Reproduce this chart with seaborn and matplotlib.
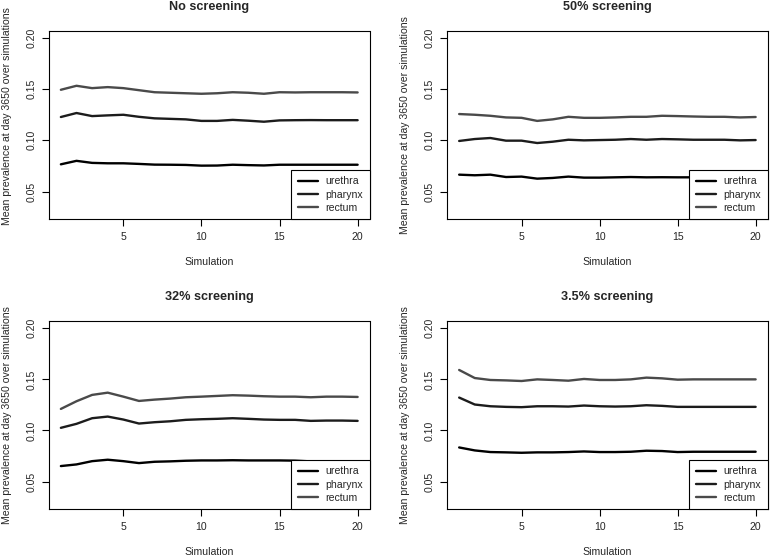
import numpy as np
import pandas as pd
import seaborn as sns
from matplotlib import pyplot as plt

# simulation index 1..20
simulation = list(range(1, 21))
sites = ['urethra', 'pharynx', 'rectum']
titles = ['No screening', '50% screening', '32% screening', '3.5% screening']

# No screening
none_urethra = [0.0766, 0.0800, 0.0780, 0.0776, 0.0776, 0.0770, 0.0763, 0.0762, 0.0760, 0.0753,
                0.0754, 0.0762, 0.0758, 0.0755, 0.0762, 0.0762, 0.0762, 0.0762, 0.0762, 0.0762]
none_pharynx = [0.1228, 0.1267, 0.1237, 0.1244, 0.1250, 0.1230, 0.1215, 0.1210, 0.1205, 0.1190,
                0.1190, 0.1200, 0.1192, 0.1182, 0.1195, 0.1197, 0.1198, 0.1197, 0.1197, 0.1197]
none_rectum = [0.1494, 0.1533, 0.1510, 0.1520, 0.1510, 0.1490, 0.1470, 0.1465, 0.1460, 0.1455,
               0.1460, 0.1470, 0.1465, 0.1455, 0.1470, 0.1468, 0.1470, 0.1470, 0.1470, 0.1468]

# 50% screening
s50_urethra = [0.0665, 0.0659, 0.0665, 0.0642, 0.0646, 0.0626, 0.0633, 0.0646, 0.0636, 0.0636,
               0.0639, 0.0642, 0.0639, 0.0640, 0.0639, 0.0639, 0.0639, 0.0639, 0.0638, 0.0639]
s50_pharynx = [0.0994, 0.1013, 0.1023, 0.0997, 0.0997, 0.0974, 0.0987, 0.1006, 0.1000, 0.1003,
               0.1006, 0.1013, 0.1006, 0.1013, 0.1010, 0.1006, 0.1006, 0.1006, 0.1000, 0.1003]
s50_rectum = [0.1257, 0.1250, 0.1240, 0.1224, 0.1220, 0.1190, 0.1205, 0.1230, 0.1220, 0.1220,
              0.1224, 0.1230, 0.1230, 0.1240, 0.1237, 0.1233, 0.1230, 0.1230, 0.1224, 0.1228]

# 32% screening
s32_urethra = [0.0652, 0.0668, 0.0700, 0.0714, 0.0700, 0.0681, 0.0694, 0.0698, 0.0704, 0.0707,
               0.0707, 0.0709, 0.0707, 0.0707, 0.0707, 0.0705, 0.0698, 0.0698, 0.0698, 0.0698]
s32_pharynx = [0.1026, 0.1065, 0.1120, 0.1136, 0.1107, 0.1068, 0.1081, 0.1090, 0.1104, 0.1110,
               0.1114, 0.1120, 0.1114, 0.1107, 0.1104, 0.1104, 0.1094, 0.1097, 0.1097, 0.1094]
s32_rectum = [0.1211, 0.1286, 0.1348, 0.1370, 0.1331, 0.1289, 0.1302, 0.1312, 0.1325, 0.1331,
              0.1338, 0.1345, 0.1341, 0.1335, 0.1331, 0.1331, 0.1325, 0.1331, 0.1331, 0.1328]

# 3.5% screening
s35_urethra = [0.0834, 0.0805, 0.0789, 0.0786, 0.0782, 0.0786, 0.0786, 0.0789, 0.0795, 0.0789,
               0.0789, 0.0792, 0.0802, 0.0799, 0.0789, 0.0792, 0.0792, 0.0792, 0.0792, 0.0792]
s35_pharynx = [0.1322, 0.1254, 0.1237, 0.1231, 0.1228, 0.1237, 0.1237, 0.1234, 0.1244, 0.1237,
               0.1234, 0.1237, 0.1247, 0.1241, 0.1231, 0.1231, 0.1231, 0.1231, 0.1231, 0.1231]
s35_rectum = [0.1592, 0.1513, 0.1494, 0.1490, 0.1484, 0.1500, 0.1494, 0.1487, 0.1504, 0.1494,
              0.1494, 0.1500, 0.1517, 0.1510, 0.1497, 0.1500, 0.1500, 0.1500, 0.1500, 0.1500]

scenarios = [
    [none_urethra, none_pharynx, none_rectum],
    [s50_urethra, s50_pharynx, s50_rectum],
    [s32_urethra, s32_pharynx, s32_rectum],
    [s35_urethra, s35_pharynx, s35_rectum],
]

sns.set_theme(style='white')
plt.rcParams['font.family'] = ['Liberation Sans', 'DejaVu Sans']

colors = {'urethra': '#000000', 'pharynx': '#1c1c1c', 'rectum': '#4a4a4a'}
fs = 7.6

fig = plt.figure(figsize=(7.7, 5.58), dpi=100)
W, H = 770, 558
# axes boxes in pixels: left, top, right, bottom
boxes = [(49, 31, 369.5, 219), (447.3, 31, 767.5, 219),
         (49, 321.3, 369.5, 509), (447.3, 321.3, 767.5, 509)]
ylab_y = [116, 125.5, 415, 415]

for i, (title, series) in enumerate(zip(titles, scenarios)):
    l, t, r, b = boxes[i]
    ax = fig.add_axes([l / W, 1 - b / H, (r - l) / W, (b - t) / H])
    df = pd.DataFrame({
        'Simulation': simulation * 3,
        'prev': series[0] + series[1] + series[2],
        'site': np.repeat(sites, len(simulation)),
    })
    sns.lineplot(data=df, x='Simulation', y='prev', hue='site', palette=colors,
                 linewidth=1.7, ax=ax, legend=False)
    ax.set_xlim(0.24, 20.76)
    ax.set_ylim(0.0232, 0.2068)
    ax.set_xticks([5, 10, 15, 20])
    ax.set_yticks([0.05, 0.10, 0.15, 0.20])
    ax.set_yticklabels(['0.05', '0.10', '0.15', '0.20'])
    ax.tick_params(axis='both', direction='out', length=5, width=0.8, color='black',
                   labelsize=fs, bottom=True, left=True)
    ax.tick_params(axis='x', pad=4.5)
    ax.tick_params(axis='y', pad=4)
    for lab in ax.get_yticklabels():
        lab.set_rotation(90)
        lab.set_va('center')
    for sp in ax.spines.values():
        sp.set_color('black')
        sp.set_linewidth(0.8)
    ax.set_title(title, fontsize=9.1, fontweight='bold', pad=15)
    ax.set_xlabel('Simulation', fontsize=fs)
    ax.xaxis.set_label_coords(0.5, -38 / (b - t))
    ax.set_ylabel('Mean prevalence at day 3650 over simulations', fontsize=fs)
    ax.yaxis.set_label_coords(-37 / (r - l), (b - ylab_y[i]) / (b - t))
    handles = [plt.Line2D([], [], color=colors[s], lw=1.7) for s in sites]
    leg = ax.legend(handles, sites, loc='lower right', fontsize=fs, frameon=True,
                    fancybox=False, framealpha=1, edgecolor='black', borderaxespad=0,
                    handlelength=1.9, handletextpad=0.75, labelspacing=0.3, borderpad=0.6)
    leg.get_frame().set_linewidth(0.8)

fig.savefig('out.png', dpi=100)
